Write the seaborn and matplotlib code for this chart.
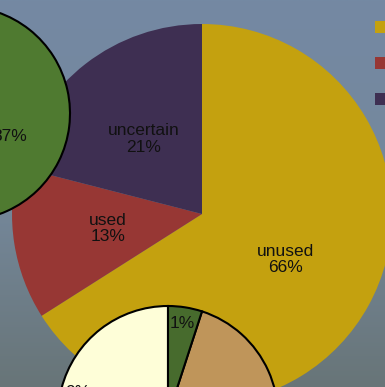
import numpy as np
import seaborn as sns
import matplotlib.pyplot as plt

# big pie
big_names = ["unused", "used", "uncertain"]
big_values = [66, 13, 21]
big_colors = ["#C4A10F", "#973734", "#3E2F52"]

# left circle (mostly cut off)
left_values = [87, 13]
left_labels = ["87%", "13%"]
left_colors = ["#4F7A30", "#BF955A"]

# small pie at the bottom
small_values = [42, 53, 5]
small_labels = ["9%", "90%", "1%"]
small_colors = ["#FEFED8", "#BF955A", "#476B2D"]

sns.set_theme(style="white")
plt.rcParams["font.family"] = ["Liberation Sans", "DejaVu Sans"]

W, H = 385, 387
fig = plt.figure(figsize=(3.85, 3.87), dpi=100)
ax = fig.add_axes([0, 0, 1, 1])

# background gradient, blue-grey at top to grey at the bottom
top = np.array([116, 137, 163]) / 255
mid = np.array([117, 136, 156]) / 255
bot = np.array([104, 117, 120]) / 255
t = np.linspace(0, 1, 200)[:, None]
grad = np.where(t < 0.5, top + (mid - top) * (t / 0.5), mid + (bot - mid) * ((t - 0.5) / 0.5))
ax.imshow(grad[:, None, :], extent=(0, W, 0, H), aspect="auto", zorder=0)

wedges, _, autotexts = ax.pie(big_values, colors=big_colors, startangle=90, counterclock=False,
                              center=(202, H - 214), radius=190, autopct="%1.0f%%",
                              pctdistance=0.5, wedgeprops={"linewidth": 0},
                              textprops={"fontsize": 12.5, "color": "#111111"})
for txt, name, v in zip(autotexts, big_names, big_values):
    txt.set_text(f"{name}\n{v}%")
    txt.set_linespacing(1.1)

edge = {"edgecolor": "black", "linewidth": 1.5}
_, _, lt = ax.pie(left_values, colors=left_colors, startangle=176.8, center=(-37, H - 113.5),
                  radius=107, wedgeprops=edge, autopct="%1.0f%%", pctdistance=0.49,
                  textprops={"fontsize": 12.5, "color": "#111111"})
for txt, lab in zip(lt, left_labels):
    txt.set_text(lab)

_, _, st = ax.pie(small_values, colors=small_colors, startangle=90, center=(168, H - 416),
                  radius=110, wedgeprops=edge, autopct="%1.0f%%", pctdistance=0.85,
                  textprops={"fontsize": 12.5, "color": "#111111"})
for txt, lab in zip(st, small_labels):
    txt.set_text(lab)

ax.legend(wedges, big_names, loc="upper left", bbox_to_anchor=(375 / W, 1 - 21 / H),
          frameon=False, fontsize=12, handlelength=0.7, handleheight=0.7,
          labelspacing=1.25, borderpad=0, borderaxespad=0, handletextpad=0.6)

ax.set_xlim(0, W)
ax.set_ylim(0, H)
ax.set_aspect("equal")
ax.axis("off")

fig.savefig("out.png", dpi=100)
